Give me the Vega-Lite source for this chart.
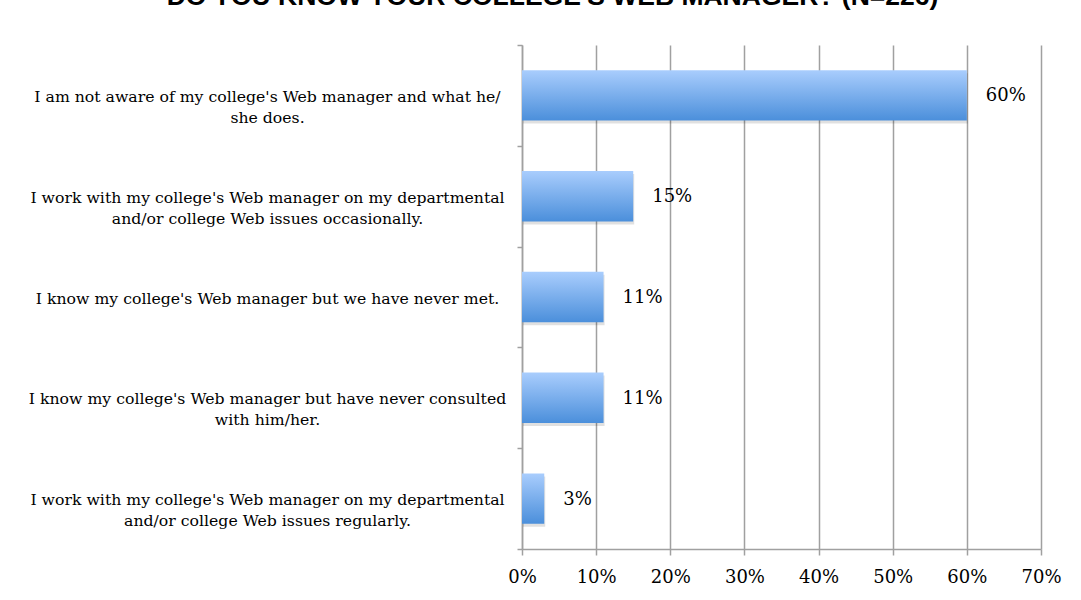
{
  "$schema": "https://vega.github.io/schema/vega-lite/v6.json",
  "autosize": {"type": "none"},
  "padding": {"left": 522, "top": 45, "right": 40, "bottom": 51},
  "width": 519,
  "height": 504,
  "background": "white",
  "title": {
    "text": "DO YOU KNOW YOUR COLLEGE'S WEB MANAGER? (N=226)",
    "font": "Liberation Sans",
    "fontWeight": "bold",
    "fontSize": 26.5,
    "color": "black",
    "anchor": "middle",
    "baseline": "alphabetic",
    "offset": 31,
    "dy": 25,
    "dx": -229
  },
  "data": {
    "values": [
      {"answer": "I am not aware of my college's Web manager and what he/|she does.", "share": 0.60},
      {"answer": "I work with my college's Web manager on my departmental|and/or college Web issues occasionally.", "share": 0.15},
      {"answer": "I know my college's Web manager but we have never met.", "share": 0.11},
      {"answer": "I know my college's Web manager but have never consulted|with him/her.", "share": 0.11},
      {"answer": "I work with my college's Web manager on my departmental|and/or college Web issues regularly.", "share": 0.03}
    ]
  },
  "encoding": {
    "y": {
      "field": "answer",
      "type": "nominal",
      "sort": null,
      "scale": {"paddingInner": 0, "paddingOuter": 0},
      "axis": {
        "title": null,
        "labelExpr": "split(datum.label, '|')",
        "labelFont": "DejaVu Serif",
        "labelFontSize": 15.7,
        "labelColor": "black",
        "labelAlign": "center",
        "labelBaseline": "middle",
        "labelLineHeight": 21,
        "labelPadding": 250,
        "labelLimit": 600,
        "labelOffset": 1,
        "tickBand": "extent",
        "tickSize": 5,
        "tickColor": "#a0a0a0",
        "tickWidth": 1.5,
        "domainColor": "#a0a0a0",
        "domainWidth": 1.5,
        "grid": false
      }
    },
    "x": {
      "field": "share",
      "type": "quantitative",
      "scale": {"domain": [0, 0.7], "nice": false},
      "axis": {
        "title": null,
        "format": ".0%",
        "values": [0, 0.1, 0.2, 0.3, 0.4, 0.5, 0.6, 0.7],
        "labelFont": "DejaVu Serif",
        "labelFontSize": 18,
        "labelColor": "black",
        "labelPadding": 13,
        "labelFlush": false,
        "tickSize": 6,
        "tickColor": "#a0a0a0",
        "tickWidth": 1.5,
        "domainColor": "#a0a0a0",
        "domainWidth": 1.5,
        "grid": true,
        "gridColor": "#a0a0a0",
        "gridWidth": 1.5
      }
    }
  },
  "layer": [
    {
      "mark": {"type": "bar", "color": "black", "opacity": 0.12, "height": {"band": 0.5}, "yOffset": 3, "x2Offset": 3, "xOffset": 1}
    },
    {
      "mark": {
        "type": "bar",
        "height": {"band": 0.5},
        "color": {
          "gradient": "linear",
          "x1": 0, "y1": 0, "x2": 0, "y2": 1,
          "stops": [
            {"offset": 0, "color": "#a9cdfd"},
            {"offset": 1, "color": "#4b8fdb"}
          ]
        }
      }
    },
    {
      "mark": {
        "type": "text",
        "align": "left",
        "baseline": "middle",
        "dx": 19,
        "dy": 1,
        "font": "DejaVu Serif",
        "fontSize": 18,
        "color": "black"
      },
      "encoding": {
        "text": {"field": "share", "type": "quantitative", "format": ".0%"}
      }
    }
  ],
  "config": {"view": {"stroke": null}}
}
